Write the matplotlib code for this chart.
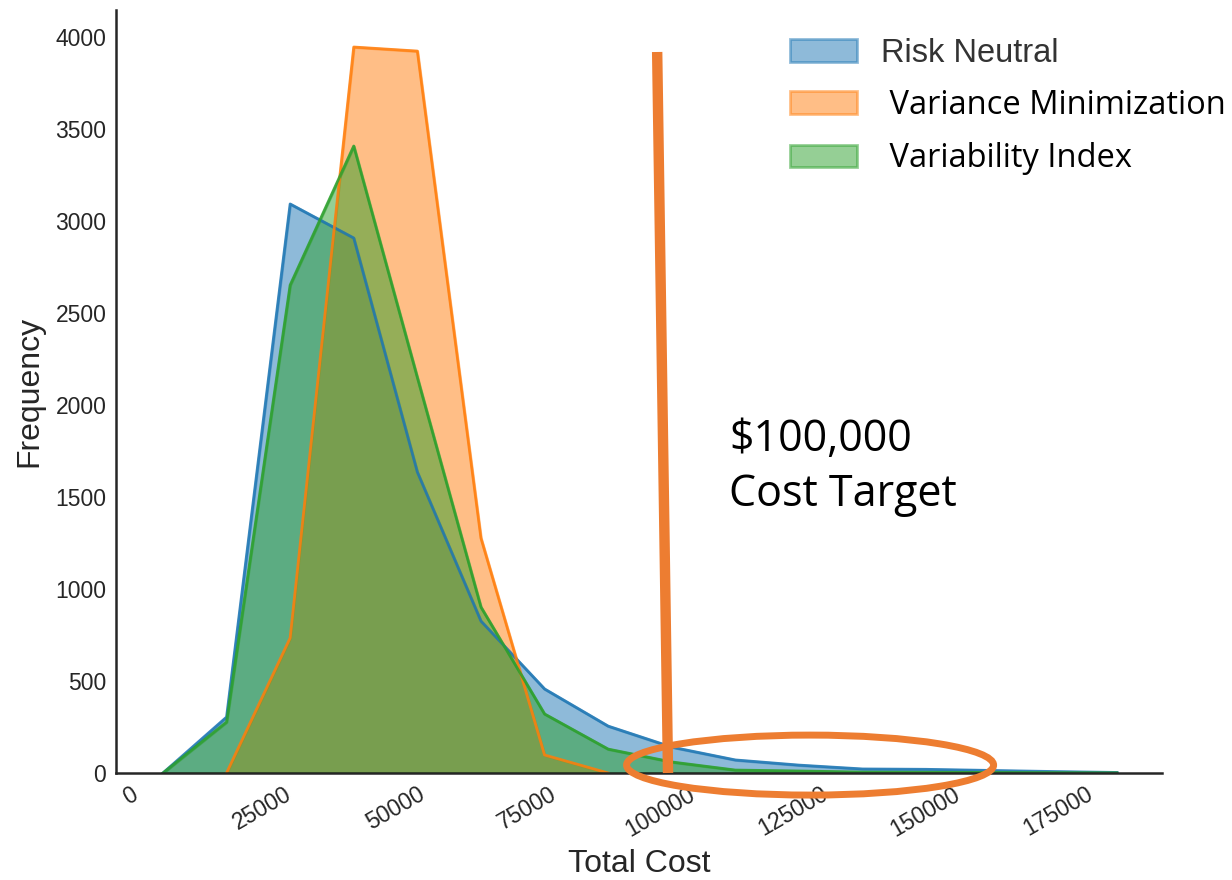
import matplotlib.pyplot as plt
from matplotlib.patches import Ellipse

# bin centres of the frequency polygons
cost_bins = [6200, 18200, 30200, 42200, 54200, 66200, 78200, 90200,
             102200, 114200, 126200, 138200, 150200, 162200, 174200, 186200]
risk_neutral = [0, 304, 3093, 2908, 1636, 826, 457, 255,
                141, 71, 43, 22, 20, 14, 8, 3]
var_min_bins = [18200, 30200, 42200, 54200, 66200, 78200, 90200]
variance_min = [0, 734, 3946, 3924, 1277, 98, 0]
variability = [0, 277, 2652, 3408, 2150, 902, 321, 130,
               60, 16, 11, 5, 4, 3, 2, 1]

labels = ["Risk Neutral", " Variance Minimization", " Variability Index"]
colors = ["tab:blue", "tab:orange", "tab:green"]
ppt_orange = "#ED7D31"
x_ticks = [0, 25000, 50000, 75000, 100000, 125000, 150000, 175000]
y_ticks = [0, 500, 1000, 1500, 2000, 2500, 3000, 3500, 4000]

plt.rcParams['font.family'] = ['Liberation Sans', 'DejaVu Sans']

fig = plt.figure(figsize=(12.32, 8.8), dpi=100)
ax = fig.add_axes([0.0942, 0.1216, 0.8490, 0.8670])

series = [(cost_bins, risk_neutral), (var_min_bins, variance_min), (cost_bins, variability)]
for (xs, ys), c, lab in zip(series, colors, labels):
    ax.fill_between(xs, ys, color=c, alpha=0.5, linewidth=2, label=lab)
    ax.plot(xs, ys, color=c, linewidth=2, alpha=0.85)

ax.set_xlim(-2640, 194700)
ax.set_ylim(0, 4147)
ax.set_xticks(x_ticks)
ax.set_yticks(y_ticks)
ax.tick_params(length=0, labelsize=16.5, colors='#262626', pad=7)
plt.setp(ax.get_xticklabels(), rotation=30, ha='center')
for s in ['top', 'right']:
    ax.spines[s].set_visible(False)
for s in ['left', 'bottom']:
    ax.spines[s].set_linewidth(1.8)
    ax.spines[s].set_color('#262626')

ax.set_xlabel("Total Cost", fontsize=23, color='#262626', labelpad=6)
ax.set_ylabel("Frequency", fontsize=23, color='#262626', labelpad=8)

leg = ax.legend(loc='upper left', bbox_to_anchor=(790 / 1232, 1 - 38 / 880),
                bbox_transform=fig.transFigure, frameon=False, fontsize=23.5,
                handlelength=2.05, handleheight=0.7, handletextpad=0.75,
                labelspacing=0.62, borderpad=0, borderaxespad=0)
for t in leg.get_texts():
    t.set_color('#333333')
for t in leg.get_texts()[1:]:
    t.set_family(['Open Sans', 'DejaVu Sans'])
    t.set_fontsize(23.5)
    t.set_color('black')

# cost target annotation
ax.plot([99450, 101500], [3919, 0], color=ppt_orange, linewidth=7.5,
        solid_capstyle='butt', zorder=5, clip_on=False)
ax.add_patch(Ellipse((128300, 43), 69250, 326, fill=False, edgecolor=ppt_orange,
                     linewidth=5, zorder=6, clip_on=False))
ax.text(113000, 1930, "$100,000\nCost Target", fontsize=31, color='black',
        family=['Open Sans', 'DejaVu Sans'], va='top', ha='left', linespacing=1.3)

fig.savefig("out.png", dpi=100)
